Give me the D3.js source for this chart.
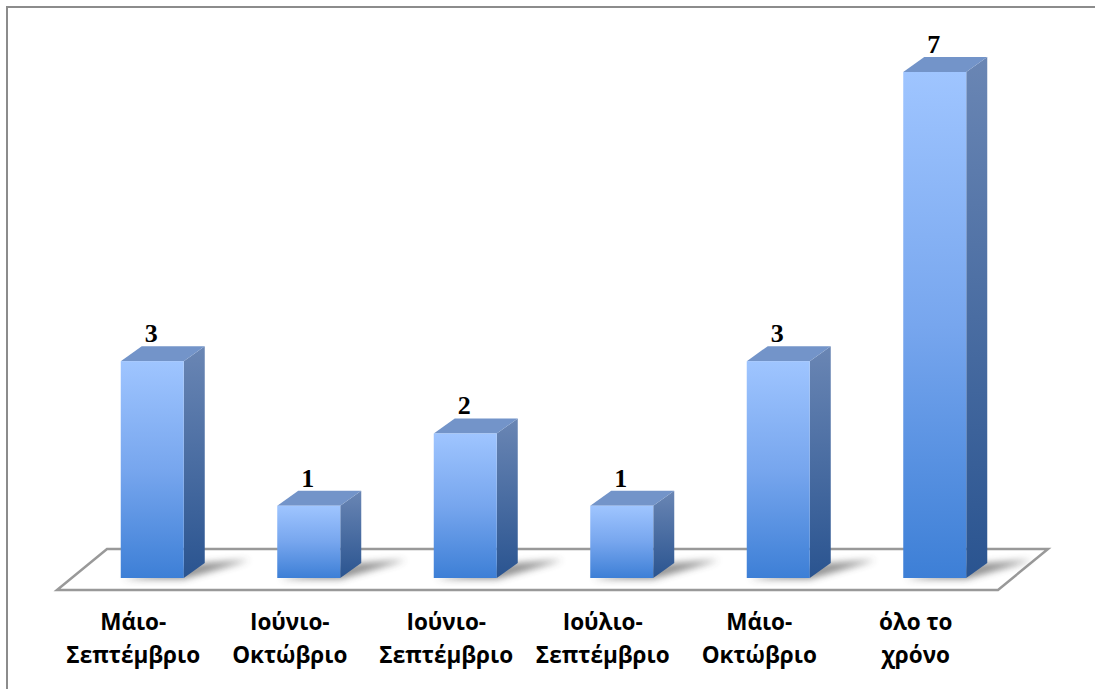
<!DOCTYPE html>
<html>
<head>
<meta charset="utf-8">
<script src="https://cdn.jsdelivr.net/npm/d3@7"></script>
<style>
  html, body { margin: 0; padding: 0; background: #fff; }
  svg { display: block; }
</style>
</head>
<body>
<svg id="chart" width="1095" height="689"></svg>
<script>
// Months of operation and how many respond for each period
const categories = [
  ["Μάιο-", "Σεπτέμβριο"],
  ["Ιούνιο-", "Οκτώβριο"],
  ["Ιούνιο-", "Σεπτέμβριο"],
  ["Ιούλιο-", "Σεπτέμβριο"],
  ["Μάιο-", "Οκτώβριο"],
  ["όλο το", "χρόνο"]
];
const values = [3, 1, 2, 1, 3, 7];

const svg = d3.select("#chart");
const W = 1095, H = 689;

// 3D projection offsets
const depthX = 21, depthY = 15;          // bar depth
const floorDX = 50, floorDY = 41;        // floor depth
const baseY = 578;                       // front-bottom edge of the bars
const floorFrontY = 590;

const keys = categories.map((c, i) => i);
const x = d3.scaleBand().domain(keys).range([74, 1013]).padding(0);
const barW = 63;
const y = d3.scaleLinear().domain([0, 7]).range([baseY, 72]);

const defs = svg.append("defs");

const gFront = defs.append("linearGradient").attr("id", "gFront")
  .attr("x1", 0).attr("y1", 0).attr("x2", 0).attr("y2", 1);
gFront.append("stop").attr("offset", "0%").attr("stop-color", "#9fc5ff");
gFront.append("stop").attr("offset", "50%").attr("stop-color", "#77a6ee");
gFront.append("stop").attr("offset", "100%").attr("stop-color", "#3d7fd6");

const gSide = defs.append("linearGradient").attr("id", "gSide")
  .attr("x1", 0).attr("y1", 0).attr("x2", 0).attr("y2", 1);
gSide.append("stop").attr("offset", "0%").attr("stop-color", "#6a86b4");
gSide.append("stop").attr("offset", "100%").attr("stop-color", "#2a5490");

const shadowBlur = defs.append("filter").attr("id", "shadowBlur")
  .attr("x", "-50%").attr("y", "-50%").attr("width", "200%").attr("height", "200%");
shadowBlur.append("feGaussianBlur").attr("stdDeviation", 3.5);

// Outer frame (top and left edges visible)
svg.append("path")
  .attr("d", `M7,${H} L7,7 L${W},7`)
  .attr("fill", "none").attr("stroke", "#8c8c8c").attr("stroke-width", 2);

// Floor of the 3D plot area
const x0 = x.range()[0], x1 = x.range()[1];
const floorPts = [
  [x0 - 17, floorFrontY],
  [x1 - 15, floorFrontY],
  [x1 - 15 + floorDX, floorFrontY - floorDY],
  [x0 - 17 + floorDX, floorFrontY - floorDY]
];
svg.append("polygon")
  .attr("points", floorPts.map(p => p.join(",")).join(" "))
  .attr("fill", "#fff").attr("stroke", "#999").attr("stroke-width", 2.5)
  .attr("stroke-linejoin", "miter");

const bars = svg.append("g").selectAll("g.bar")
  .data(values.map((v, i) => ({ v, i })))
  .join("g").attr("class", "bar");

const left = d => x(d.i) + (x.bandwidth() - barW) / 2;

// Soft shadow cast on the floor
bars.append("polygon")
  .attr("points", d => {
    const l = left(d), r = l + barW;
    return [
      [l + 2, baseY + 1], [r, baseY + 1], [r + depthX + 45, baseY - depthY - 3],
      [r + depthX, baseY - depthY]
    ].map(p => p.join(",")).join(" ");
  })
  .attr("fill", "#444").attr("opacity", 0.6)
  .attr("filter", "url(#shadowBlur)");

// Right side face
bars.append("polygon")
  .attr("points", d => {
    const r = left(d) + barW, t = y(d.v);
    return [[r, t], [r + depthX, t - depthY], [r + depthX, baseY - depthY], [r, baseY]]
      .map(p => p.join(",")).join(" ");
  })
  .attr("fill", "url(#gSide)");

// Top face
bars.append("polygon")
  .attr("points", d => {
    const l = left(d), r = l + barW, t = y(d.v);
    return [[l, t], [l + depthX, t - depthY], [r + depthX, t - depthY], [r, t]]
      .map(p => p.join(",")).join(" ");
  })
  .attr("fill", "#7394c9");

// Front face
bars.append("rect")
  .attr("x", d => left(d))
  .attr("y", d => y(d.v))
  .attr("width", barW)
  .attr("height", d => baseY - y(d.v))
  .attr("fill", "url(#gFront)");

// Value labels
bars.append("text")
  .attr("x", d => left(d) + barW / 2 - 1)
  .attr("y", d => y(d.v) - 19)
  .attr("text-anchor", "middle")
  .attr("font-family", "'Liberation Serif', 'DejaVu Serif', serif")
  .attr("font-weight", "bold")
  .attr("font-size", 26)
  .attr("fill", "#000")
  .text(d => d.v);

// Category labels (two lines each)
const cat = svg.append("g").selectAll("text.cat")
  .data(categories.map((c, i) => ({ c, i })))
  .join("text").attr("class", "cat")
  .attr("y", 630)
  .attr("text-anchor", "middle")
  .attr("font-family", "'Open Sans', 'Noto Sans', sans-serif")
  .attr("font-weight", "bold")
  .attr("font-size", 22.5)
  .attr("fill", "#000");
cat.selectAll("tspan")
  .data(d => d.c.map((t, k) => ({ t, k, x: left(d) + barW / 2 - 19 })))
  .join("tspan")
  .attr("x", d => d.x)
  .attr("dy", d => d.k === 0 ? 0 : 33)
  .text(d => d.t);
</script>
</body>
</html>
